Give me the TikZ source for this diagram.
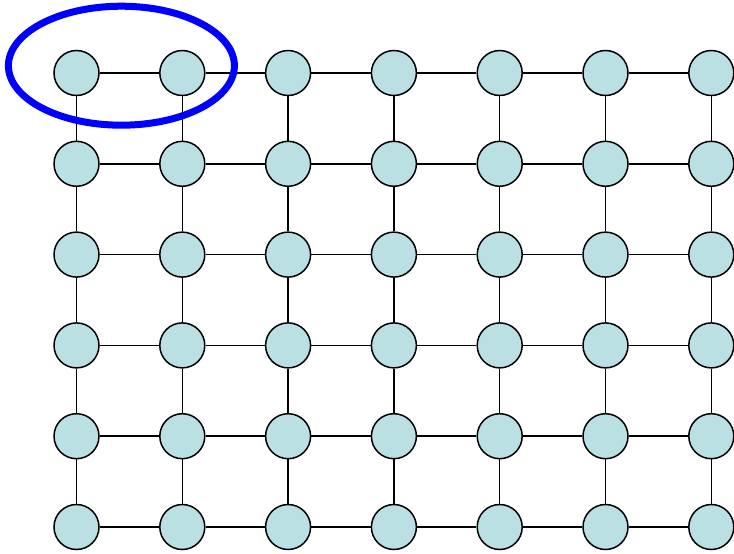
\documentclass[tikz,border=0pt]{standalone}
\usepackage{tikz}
\usetikzlibrary{positioning, shapes.geometric}
\definecolor{meshfill}{RGB}{187,224,227}
\definecolor{mydark}{RGB}{0,0,0}
\definecolor{myblue}{RGB}{0,0,255}
\tikzset{
  pe/.style={circle, draw=mydark, fill=meshfill, minimum size=45pt,
    inner sep=0pt, line width=1.5pt},
  link/.style={line width=1.5pt, color=mydark},
  ring/.style={line width=7pt, color=myblue}
}

\begin{document}
\begin{tikzpicture}[x=1pt, y=-1pt]
  \useasboundingbox (0,0) rectangle (734,554);
  % mesh of processing elements
  \foreach \i in {0,...,6} {
    \foreach \j in {0,...,5} {
      \node[pe] (n-\i-\j) at (76.5+105.8*\i, 73+90.8*\j) {};
    }
  }
  % horizontal links
  \foreach \i [evaluate=\i as \k using int(\i+1)] in {0,...,5} {
    \foreach \j in {0,...,5} {
      \draw[link] (n-\i-\j) -- (n-\k-\j);
    }
  }
  % vertical links
  \foreach \i in {0,...,6} {
    \foreach \j [evaluate=\j as \k using int(\j+1)] in {0,...,4} {
      \draw[link] (n-\i-\j) -- (n-\i-\k);
    }
  }
  % highlighted pair
  \node[ring, ellipse, draw, minimum width=226pt, minimum height=119pt, inner sep=0pt]
    (grp) at (121.4, 65.7) {};
\end{tikzpicture}
\end{document}
